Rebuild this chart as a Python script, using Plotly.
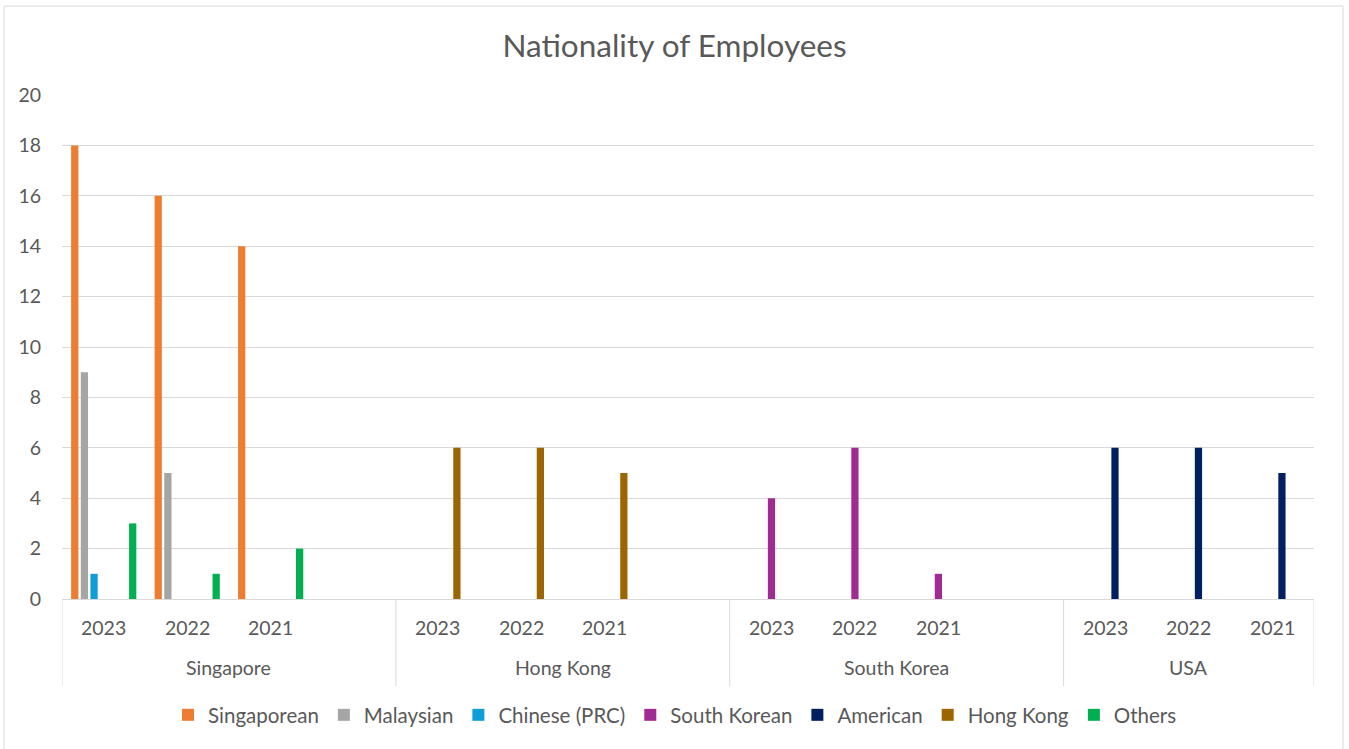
import plotly.graph_objects as go

countries = ["Singapore", "Singapore", "Singapore", "Singapore",
             "Hong Kong", "Hong Kong", "Hong Kong", "Hong Kong",
             "South Korea", "South Korea", "South Korea", "South Korea",
             "USA", "USA", "USA"]
years = ["2023", "2022", "2021", "",
         "2023", "2022", "2021", "",
         "2023", "2022", "2021", "",
         "2023", "2022", "2021"]

series_names = ["Singaporean", "Malaysian", "Chinese (PRC)", "South Korean",
                "American", "Hong Kong", "Others"]
singaporean = [18, 16, 14, None, None, None, None, None, None, None, None, None, None, None, None]
malaysian = [9, 5, None, None, None, None, None, None, None, None, None, None, None, None, None]
chinese = [1, None, None, None, None, None, None, None, None, None, None, None, None, None, None]
south_korean = [None, None, None, None, None, None, None, None, 4, 6, 1, None, None, None, None]
american = [None, None, None, None, None, None, None, None, None, None, None, None, 6, 6, 5]
hong_kong = [None, None, None, None, 6, 6, 5, None, None, None, None, None, None, None, None]
others = [3, 1, 2, None, None, None, None, None, None, None, None, None, None, None, None]

y_ticks = [0, 2, 4, 6, 8, 10, 12, 14, 16, 18, 20]

series_values = [singaporean, malaysian, chinese, south_korean, american, hong_kong, others]
colors = ["#ED7D31", "#A5A5A5", "#0F9ED8", "#A02B93", "#002060", "#9C6500", "#00B050"]

FONT = "Lato, 'Open Sans', sans-serif"
TXT = "#595959"
LINE = "#D9D9D9"

xs = list(range(len(years)))

fig = go.Figure()
for name, vals, col in zip(series_names, series_values, colors):
    fig.add_trace(go.Bar(x=xs, y=vals, name=name,
                         marker=dict(color=col, line=dict(width=0))))

W, H = 1349, 749
L, R, T, B = 62, 1314, 95, 599
pw, ph = R - L, B - T


def px(x):
    return (x - L) / pw


def py(y):
    return (B - y) / ph


annotations = []
for i, yr in enumerate(years):
    if yr:
        annotations.append(dict(x=i, xref="x", y=py(627), yref="paper", text=yr,
                                showarrow=False, xanchor="center", yanchor="middle",
                                font=dict(family=FONT, size=19.5, color=TXT)))

# group centres and boundaries for the country level
groups = []
for i, c in enumerate(countries):
    if not groups or groups[-1][0] != c:
        groups.append([c, i, i])
    else:
        groups[-1][2] = i

shapes = []
bounds = set()
for c, i0, i1 in groups:
    annotations.append(dict(x=(i0 + i1) / 2, xref="x", y=py(667), yref="paper", text=c,
                            showarrow=False, xanchor="center", yanchor="middle",
                            font=dict(family=FONT, size=19.5, color=TXT)))
    bounds.add(i0 - 0.5)
    bounds.add(i1 + 0.5)
for bx in sorted(bounds):
    shapes.append(dict(type="line", xref="x", yref="paper", x0=bx, x1=bx,
                       y0=0, y1=py(686), line=dict(color=LINE, width=1)))

shapes.append(dict(type="rect", xref="paper", yref="paper",
                   x0=px(4), x1=px(1343), y0=py(770), y1=py(6),
                   line=dict(color=LINE, width=1), fillcolor="rgba(0,0,0,0)", layer="below"))

fig.update_layout(
    width=W, height=H,
    margin=dict(l=L, r=W - R, t=T, b=H - B, pad=0),
    paper_bgcolor="white", plot_bgcolor="white",
    barmode="group", bargap=0.19, bargroupgap=0.25,
    title=dict(text="Nationality of Employees", x=0.5, xanchor="center",
               y=1 - 46 / H, yanchor="middle",
               font=dict(family=FONT, size=31.5, color=TXT)),
    font=dict(family=FONT, size=20, color=TXT),
    legend=dict(orientation="h", x=px(675), xanchor="center", y=py(715), yanchor="middle",
                font=dict(family=FONT, size=20.5, color=TXT), traceorder="normal",
                itemwidth=30),
    xaxis=dict(range=[-0.5, len(years) - 0.5], showline=True, linecolor=LINE, linewidth=1,
               showgrid=False, ticks="", showticklabels=False, zeroline=False),
    yaxis=dict(range=[0, 20], tickvals=y_ticks, showgrid=True, gridcolor=LINE, gridwidth=1,
               zeroline=False, showline=False, ticks="", ticklabelstandoff=20,
               tickfont=dict(family=FONT, size=19.5, color=TXT)),
    annotations=annotations,
    shapes=shapes,
)

fig.write_html("out.html", config={"displayModeBar": False},
               post_script="document.body.style.margin='0';")
